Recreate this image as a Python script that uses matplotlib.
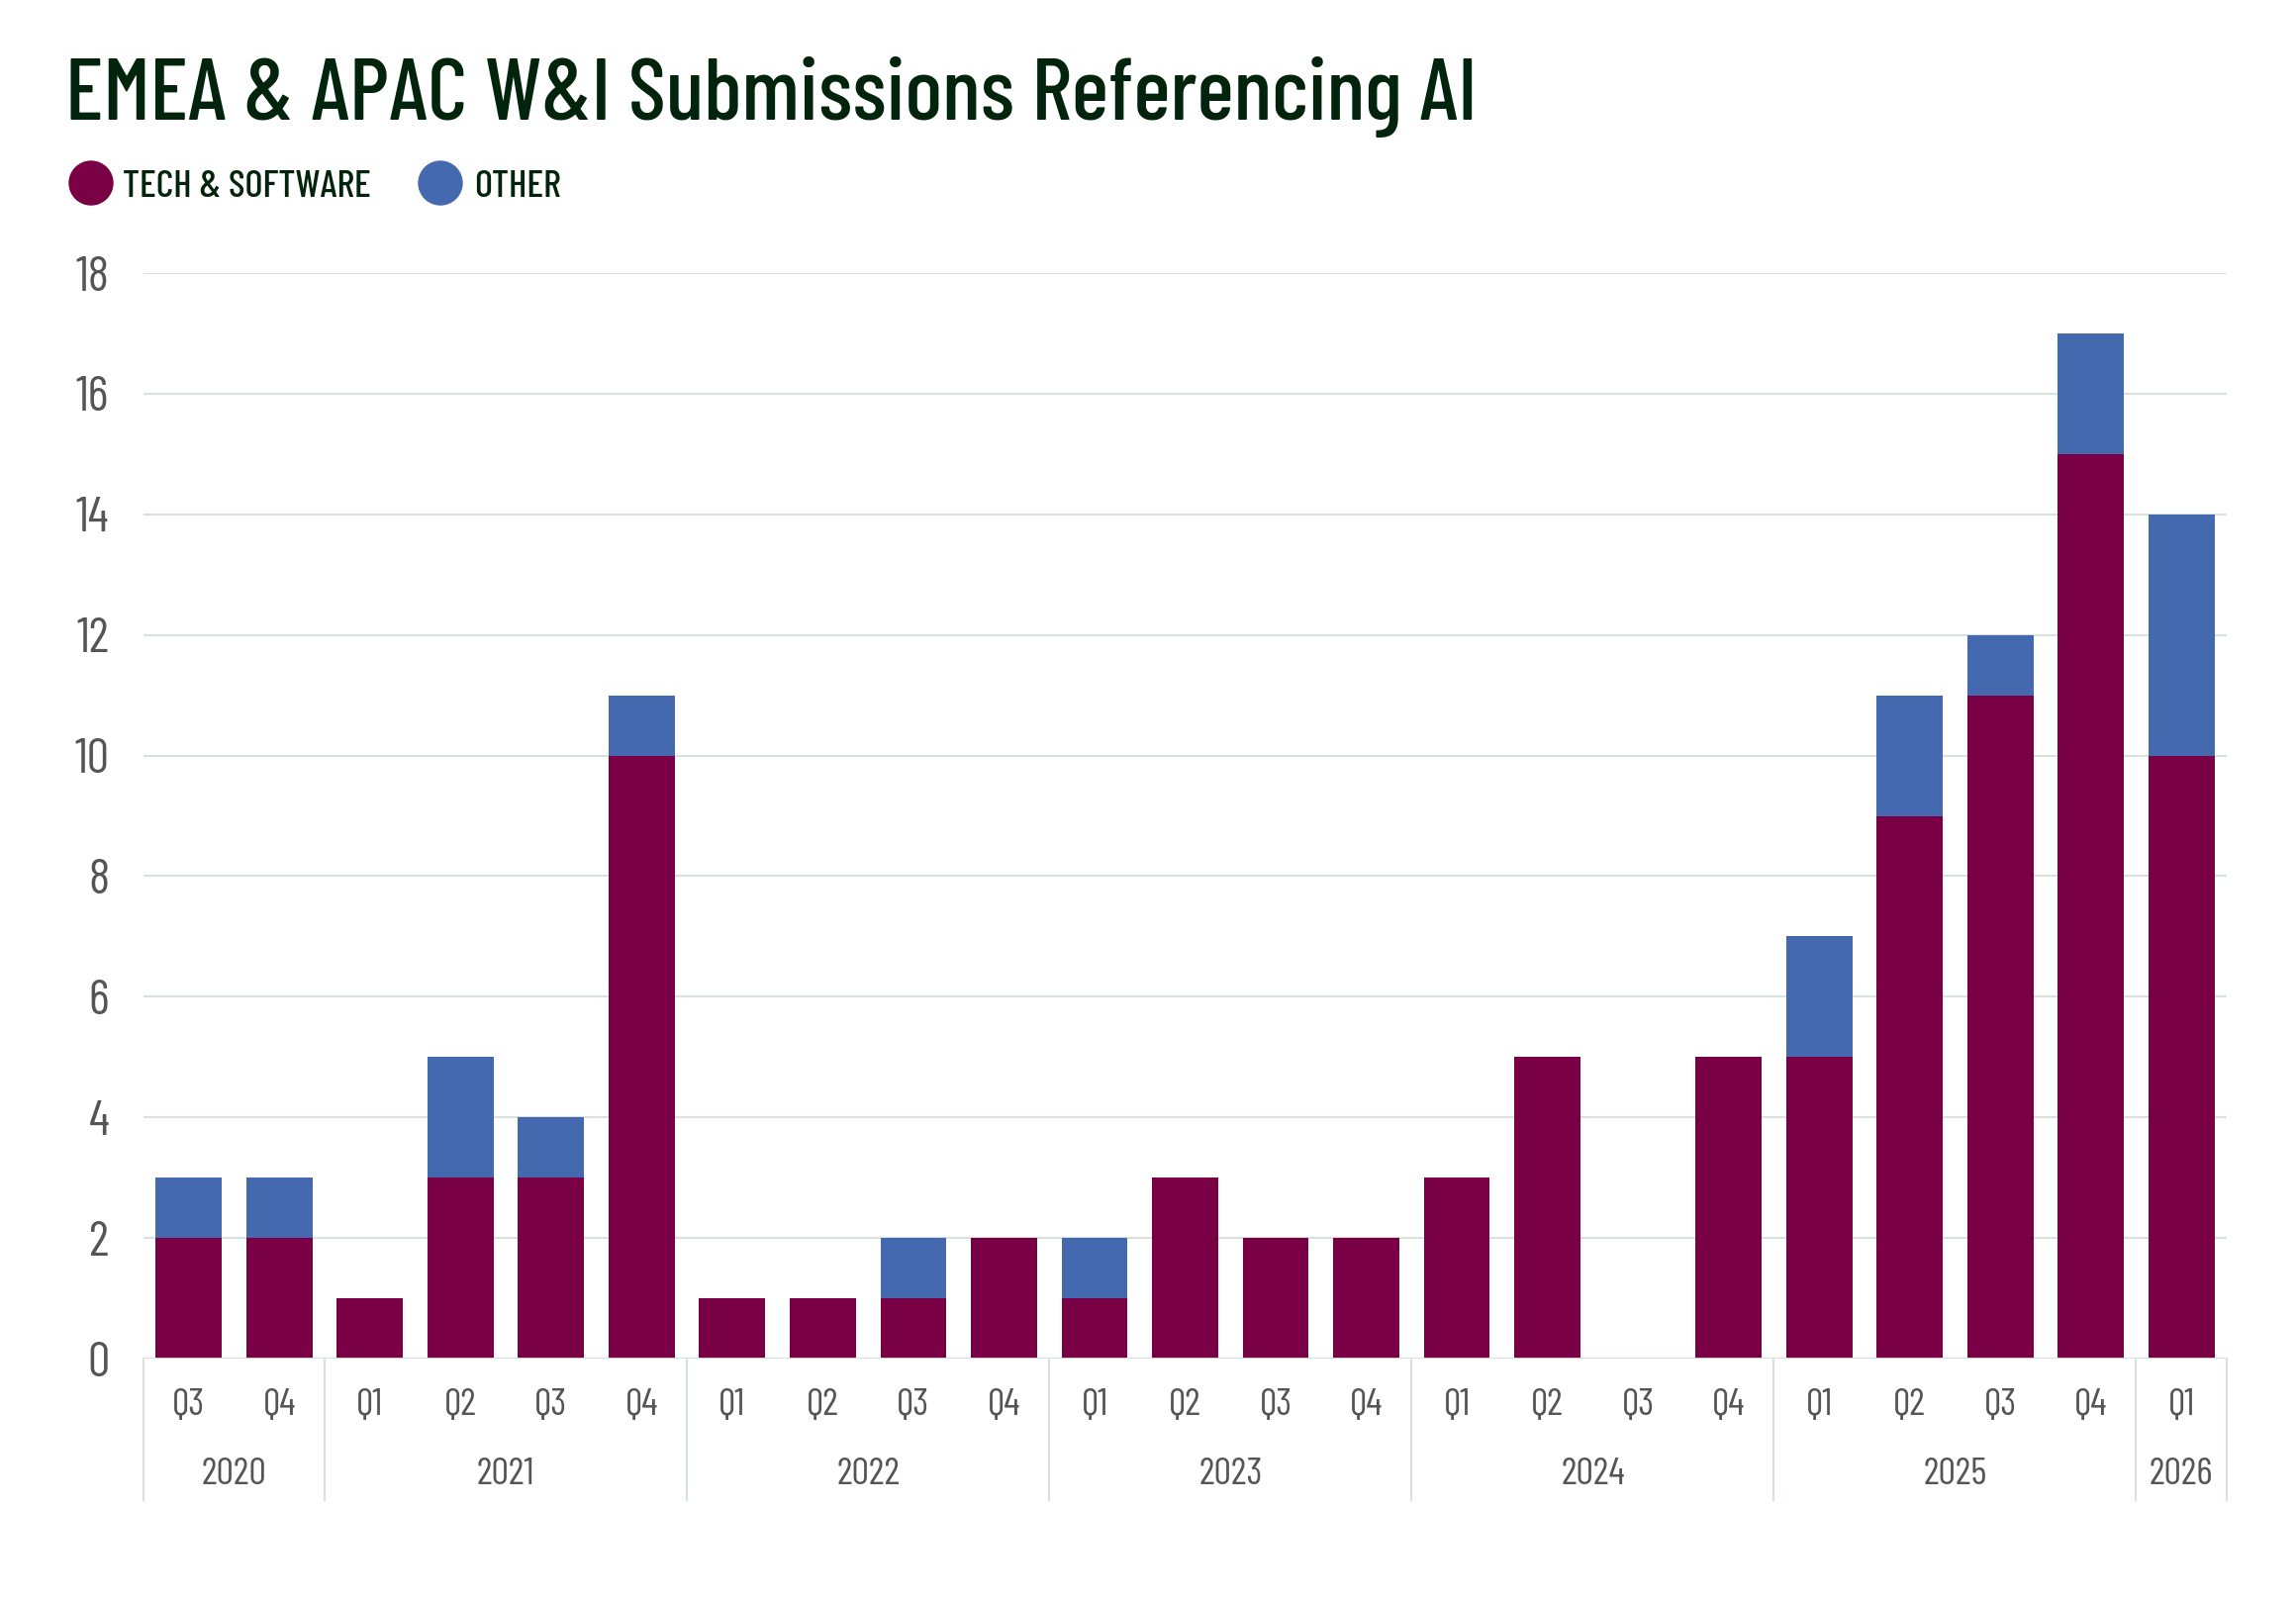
#EMEA & APAC W&I submissions referencing AI - stacked quarterly bars

import numpy as np
import matplotlib
matplotlib.use('Agg')
import matplotlib.pyplot as plt
from matplotlib.patches import Circle

#Data
years = ['2020', '2021', '2022', '2023', '2024', '2025', '2026']
quarters_per_year = [2, 4, 4, 4, 4, 4, 1]
quarters = ['Q3', 'Q4',
            'Q1', 'Q2', 'Q3', 'Q4',
            'Q1', 'Q2', 'Q3', 'Q4',
            'Q1', 'Q2', 'Q3', 'Q4',
            'Q1', 'Q2', 'Q3', 'Q4',
            'Q1', 'Q2', 'Q3', 'Q4',
            'Q1']
tech_software = [2, 2, 1, 3, 3, 10, 1, 1, 1, 2, 1, 3, 2, 2, 3, 5, 0, 5, 5, 9, 11, 15, 10]
other = [1, 1, 0, 2, 1, 1, 0, 0, 1, 0, 1, 0, 0, 0, 0, 0, 0, 0, 2, 2, 1, 2, 4]
y_ticks = [0, 2, 4, 6, 8, 10, 12, 14, 16, 18]

#Styling
maroon = '#7A0046'
blue = '#4469AE'
title_col = '#03240C'
tick_col = '#555555'
grid_col = '#D6E2DA'
font = 'Barlow Condensed'
plt.rcParams['font.family'] = [font, 'DejaVu Sans']

W, H = 2320, 1617
x0, x1, y_zero, y_top = 145, 2250, 1373, 276
fig = plt.figure(figsize=(W / 100, H / 100), dpi=100)
ax = fig.add_axes([x0 / W, 1 - y_zero / H, (x1 - x0) / W, (y_zero - y_top) / H])
ax_h = y_zero - y_top

x = np.arange(len(quarters))
ax.bar(x, tech_software, width=0.73, color=maroon, zorder=3)
ax.bar(x, other, width=0.73, bottom=tech_software, color=blue, zorder=3)

ax.set_xlim(-0.5, len(quarters) - 0.5)
ax.set_ylim(0, 18)
ax.set_yticks(y_ticks)
ax.set_yticklabels([str(t) for t in y_ticks], fontsize=36, color=tick_col)
ax.tick_params(axis='y', length=0, pad=25)
ax.set_xticks([])
for s in ax.spines.values():
    s.set_visible(False)
ax.yaxis.grid(True, color=grid_col, linewidth=1.5, zorder=0)
ax.axhline(0, color=grid_col, linewidth=2, zorder=4)

#Category labels (quarters + years)
trans = matplotlib.transforms.blended_transform_factory(ax.transData, ax.transAxes)
for i, q in enumerate(quarters):
    ax.text(i, -(1420 - y_zero) / ax_h, q, transform=trans, ha='center',
            va='center', fontsize=28, color=tick_col)

bounds = np.concatenate([[0], np.cumsum(quarters_per_year)]) - 0.5
for b in bounds:
    ax.plot([b, b], [0, -(1516 - y_zero) / ax_h], transform=trans,
            color=grid_col, linewidth=1.5, clip_on=False)
for j, yr in enumerate(years):
    mid = (bounds[j] + bounds[j + 1]) / 2
    ax.text(mid, -(1490 - y_zero) / ax_h, yr, transform=trans, ha='center',
            va='center', fontsize=28, color=tick_col)

#Title
fig.text(66 / W, 1 - 121 / H, 'EMEA & APAC W&I Submissions Referencing AI',
         fontsize=64, fontweight='medium', color=title_col,
         ha='left', va='baseline')

#Legend
leg = [('TECH & SOFTWARE', maroon, 92, 124), ('OTHER', blue, 445, 479)]
for label, col, cx, tx in leg:
    fig.add_artist(Circle((cx / 100, (H - 185) / 100), 0.22, color=col,
                          transform=fig.dpi_scale_trans))
    fig.text(tx / W, 1 - 199 / H, label, fontsize=28, fontweight='medium',
             color=title_col, ha='left', va='baseline')

fig.savefig('out.png', dpi=100)
